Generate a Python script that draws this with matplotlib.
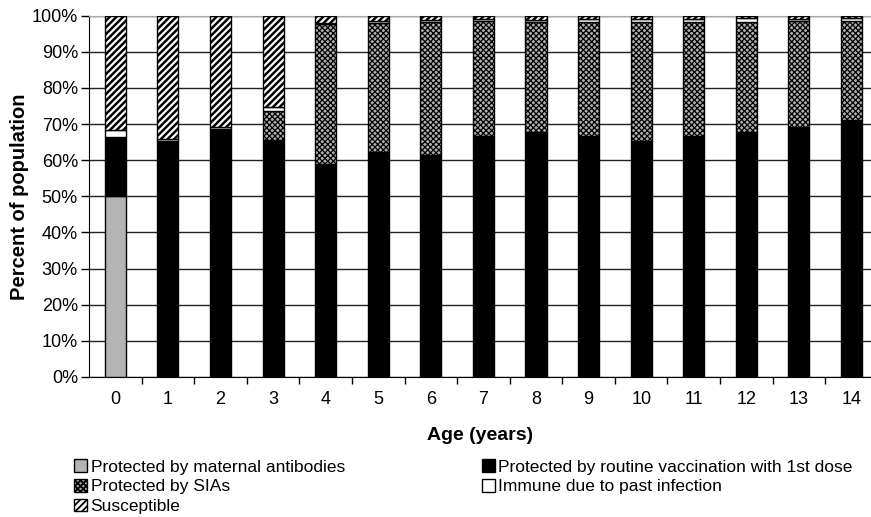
import matplotlib
matplotlib.use("Agg")
import matplotlib.pyplot as plt
import matplotlib.patches as mpatches
import numpy as np

plt.rcParams['font.family'] = ['Liberation Sans', 'DejaVu Sans']

ages = [str(i) for i in range(15)]
maternal = [50, 0, 0, 0, 0, 0, 0, 0, 0, 0, 0, 0, 0, 0, 0]
routine = [16.5, 65.4, 68.6, 65.6, 58.9, 62.4, 61.5, 66.6, 67.7, 66.8, 65.2, 66.8, 67.7, 69.3, 71.2]
sias = [0, 0, 0, 8.0, 38.8, 35.7, 36.8, 31.9, 30.6, 31.5, 33.0, 31.4, 30.5, 29.1, 27.4]
immune = [2.0, 0.5, 0.5, 1.0, 0.3, 0.5, 0.5, 0.5, 0.5, 0.7, 1.0, 1.0, 1.3, 0.8, 0.8]
susceptible = [31.5, 34.1, 30.9, 25.4, 2.0, 1.4, 1.2, 1.0, 1.2, 1.0, 0.8, 0.8, 0.5, 0.8, 0.6]
yticks = [0, 10, 20, 30, 40, 50, 60, 70, 80, 90, 100]

fig = plt.figure(figsize=(8.71, 5.17), dpi=100)
ax = fig.add_axes([0.1022, 0.2708, 0.8978, 0.6988])

x = np.arange(len(ages))
w = 0.4
series = [
    (maternal, dict(color='#b4b4b4', hatch=None, hlw=1.0), 'Protected by maternal antibodies'),
    (routine, dict(color='black', hatch=None, hlw=1.0), 'Protected by routine vaccination with 1st dose'),
    (sias, dict(color='#b0b0b0', hatch='xxxxxx', hlw=0.9), 'Protected by SIAs'),
    (immune, dict(color='white', hatch=None, hlw=1.0), 'Immune due to past infection'),
    (susceptible, dict(color='white', hatch='/////', hlw=1.8), 'Susceptible'),
]
bottom = np.zeros(len(ages))
handles = {}
for vals, st, lab in series:
    v = np.array(vals, dtype=float)
    with plt.rc_context({'hatch.linewidth': st['hlw']}):
        ax.bar(x, v, w, bottom=bottom, color=st['color'], hatch=st['hatch'],
               edgecolor='black', linewidth=1.0, zorder=3)
        handles[lab] = mpatches.Patch(facecolor=st['color'], hatch=st['hatch'],
                                      edgecolor='black', linewidth=1.0)
    bottom += v

ax.set_xlim(-0.5, 14.37)
ax.set_ylim(0, 100)
ax.set_yticks(yticks)
ax.set_yticklabels([f'{t}%' for t in yticks], fontsize=13)
ax.set_xticks(x)
ax.set_xticklabels(ages, fontsize=13)
ax.set_xticks(x[:-1] + 0.5, minor=True)
ax.tick_params(axis='x', which='major', length=0, pad=10)
ax.tick_params(axis='x', which='minor', length=5, width=1, direction='out')
ax.tick_params(axis='y', length=6, width=1, pad=2)
ax.yaxis.grid(True, color='#222222', linewidth=1.0, zorder=0)
ax.set_axisbelow(True)
ax.spines['right'].set_visible(False)
ax.spines['top'].set_color('#aaaaaa')
ax.spines['left'].set_color('black')
ax.spines['bottom'].set_color('black')

ax.set_xlabel('Age (years)', fontsize=14, fontweight='bold', labelpad=14)
ax.set_ylabel('Percent of population', fontsize=14.5, fontweight='bold', labelpad=2)

order = ['Protected by maternal antibodies', 'Protected by SIAs', 'Susceptible',
         'Protected by routine vaccination with 1st dose', 'Immune due to past infection']
with plt.rc_context({'hatch.linewidth': 1.3}):
    leg = fig.legend([handles[k] for k in order], order, loc='upper left',
                     bbox_to_anchor=(0.085, 0.112), ncol=2, frameon=False,
                     fontsize=12.5, handlelength=0.75, handleheight=0.75,
                     handletextpad=0.2, labelspacing=0.25, columnspacing=7.9,
                     borderaxespad=0, borderpad=0)

fig.savefig('out.png', dpi=100)
